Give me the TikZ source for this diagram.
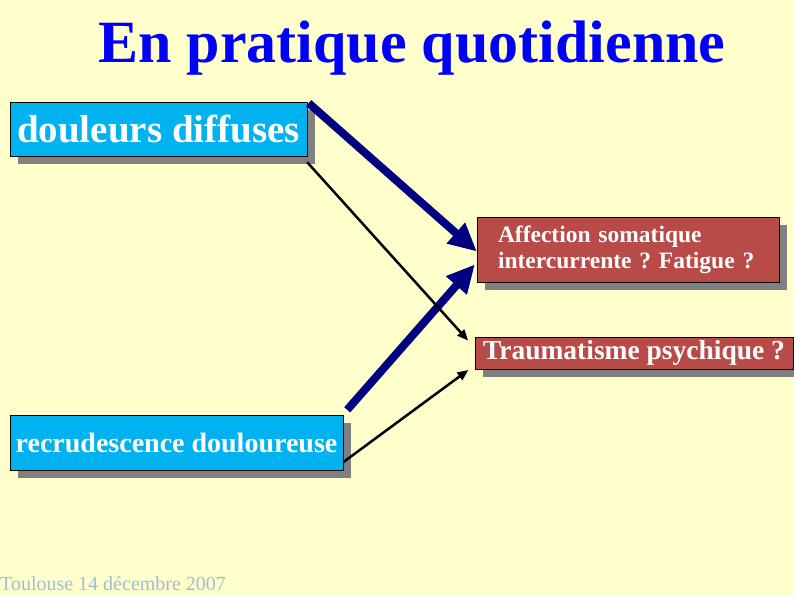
\documentclass[tikz,border=0pt]{standalone}
\usepackage{fontspec}
\setmainfont{Liberation Serif}
\usepackage{tikz}
\usetikzlibrary{arrows.meta,shadows}
\definecolor{paleyellow}{RGB}{255,255,204}
\definecolor{skycyan}{RGB}{0,178,240}
\definecolor{brickred}{RGB}{184,74,72}
\definecolor{navyblue}{RGB}{0,0,128}
\definecolor{titleblue}{RGB}{0,0,255}
\definecolor{footgray}{RGB}{160,188,220}
\definecolor{shadowgray}{RGB}{128,128,128}
\frenchspacing

\begin{document}
\begin{tikzpicture}[x=1pt, y=-1pt,
		slidebox/.style={draw=black, text=white, inner sep=0pt, drop shadow={shadow xshift=8pt, shadow yshift=-8pt, fill=shadowgray, opacity=1}},
		fatarrow/.style={line width=8pt, color=navyblue, -{Triangle[length=28pt,width=26pt]}},
		thinarrow/.style={line width=2.5pt, color=black, -{Triangle[length=11pt,width=9pt]}}]

		% slide background
		\fill[paleyellow] (0,0) rectangle (794,595);
		\useasboundingbox (0,0) rectangle (794,595);

		% title and footer
		\node[anchor=base, inner sep=0pt, text=titleblue, font=\bfseries\fontsize{60}{66}\selectfont] (title) at (412,62) {En pratique quotidienne};
		\node[anchor=base west, inner sep=0pt, text=footgray, font=\fontsize{20}{22}\selectfont] (footer) at (0,590) {Toulouse 14 décembre 2007};

		% left boxes
		\node[slidebox, fill=skycyan, minimum width=297pt, minimum height=54pt, font=\bfseries\fontsize{39}{44}\selectfont] (douleurs) at (158.5,129) {douleurs diffuses};
		\node[slidebox, fill=skycyan, minimum width=333pt, minimum height=55pt, font=\bfseries\fontsize{28}{32}\selectfont] (recrud) at (176.5,442.5) {recrudescence douloureuse};

		% right boxes
		\node[slidebox, fill=brickred, minimum height=65pt, inner xsep=21pt, text width=260pt, align=left, font=\bfseries\fontsize{23.5}{26}\selectfont] (affection) at (628,249.5) {Affection somatique\\intercurrente ? Fatigue ?};
		\node[slidebox, fill=brickred, minimum width=318pt, minimum height=32pt, font=\bfseries\fontsize{27.5}{30}\selectfont] (trauma) at (634,353) {Traumatisme psychique ?};

		% thick arrows
		\draw[fatarrow, shorten <=2pt] (douleurs.north east) -- ([yshift=-2pt]affection.west);
		\draw[fatarrow, shorten >=3pt] ([xshift=4pt,yshift=5pt]recrud.north east) -- ([yshift=20pt]affection.south west);

		% thin arrows
		\draw[thinarrow, shorten >=10pt] ([yshift=-6pt]douleurs.south east) -- ([yshift=5pt]trauma.west);
		\draw[thinarrow, shorten >=8pt] ([yshift=8pt]recrud.south east) -- ([yshift=4pt]trauma.south west);

\end{tikzpicture}
\end{document}
